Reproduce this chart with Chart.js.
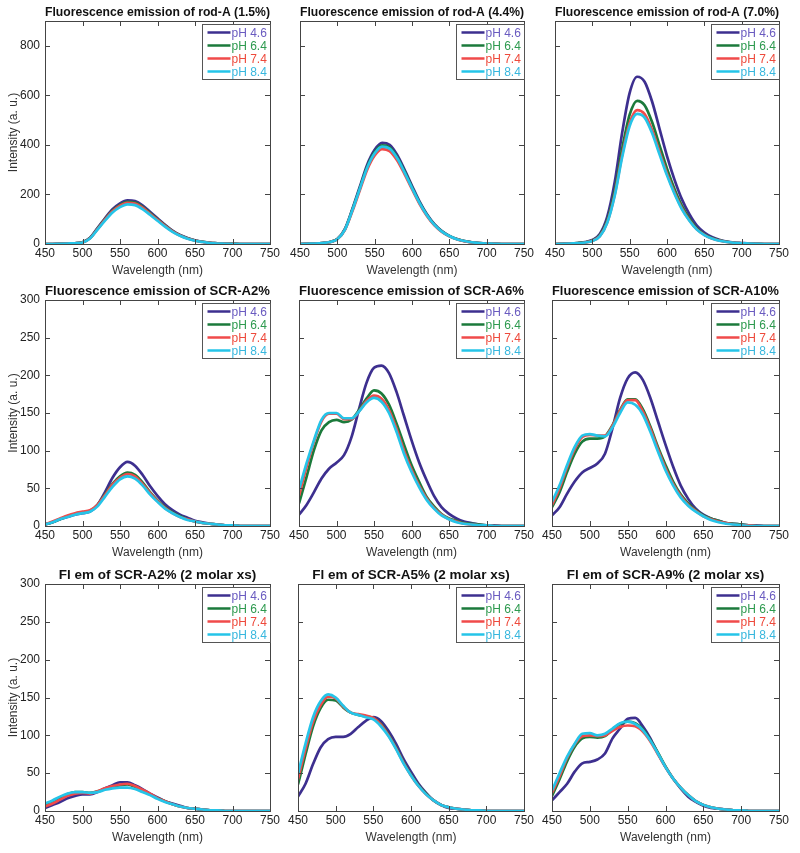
<!DOCTYPE html>
<html>
<head>
<meta charset="utf-8">
<title>Fluorescence emission</title>
<script src="https://cdn.jsdelivr.net/npm/chart.js@4.4.0/dist/chart.umd.min.js"></script>
<style>
  body { margin: 0; background: #fff; }
  #wrap { position: relative; width: 800px; height: 853px; }
  #wrap canvas { position: absolute; left: 0; top: 0; }
</style>
</head>
<body>
<div id="wrap"></div>
<script>
// wavelength axis (nm)
const wavelength = [450,460,470,480,490,500,510,520,530,540,550,560,570,580,590,600,610,620,630,640,650,660,670,680,690,700,710,720,730,740,750];
const phLabels = ["pH 4.6", "pH 6.4", "pH 7.4", "pH 8.4"];

// each panel: rows are pH 4.6, 6.4, 7.4, 8.4
const rodA15 = [
  [0,0,1,2,3,7,25,64,104,140,164,176,173,156,130,104,78,54,36,24,15,9,5,3,1,1,0,0,0,0,0],
  [0,0,1,2,3,7,24,62,100,135,158,170,167,150,125,100,75,52,35,23,14,9,5,3,1,1,0,0,0,0,0],
  [0,0,1,2,3,6,23,60,98,132,155,166,163,147,122,98,73,51,34,22,14,8,5,2,1,0,0,0,0,0,0],
  [0,0,1,2,3,6,22,58,94,127,149,160,157,141,118,94,70,49,33,21,13,8,4,2,1,0,0,0,0,0,0]
];
const rodA44 = [
  [0,1,2,4,8,20,60,140,230,320,380,408,400,360,300,235,172,120,80,52,33,20,12,7,4,2,1,0,0,0,0],
  [0,1,2,4,8,20,58,137,224,312,371,398,390,351,293,229,168,117,78,51,32,20,12,7,4,2,1,0,0,0,0],
  [0,1,2,4,8,19,56,131,216,300,357,383,375,338,282,221,162,113,75,49,31,19,11,7,4,2,1,0,0,0,0],
  [0,1,2,4,8,19,57,135,222,308,366,393,385,347,289,226,166,116,77,50,32,19,12,7,4,2,1,0,0,0,0]
];
const rodA70 = [
  [0,1,2,4,8,16,40,110,250,450,610,675,655,575,465,355,260,180,120,74,46,28,17,10,6,4,2,1,0,0,0],
  [0,1,2,4,7,14,35,95,215,385,522,578,560,492,398,304,222,154,103,63,39,24,15,9,5,3,2,1,0,0,0],
  [0,1,2,3,6,13,32,88,200,360,488,540,524,460,372,284,208,144,96,59,37,22,14,8,5,3,2,1,0,0,0],
  [0,1,2,3,6,12,31,86,195,351,476,525,510,448,362,277,203,140,94,58,36,22,13,8,5,3,2,1,0,0,0]
];
const scrA2 = [
  [2,5,9,12,15,17,19,28,45,64,78,85,80,68,53,40,29,21,15,11,7,5,3,2,1,1,0,0,0,0,0],
  [2,5,9,13,16,18,20,28,42,56,66,71,68,58,45,34,25,18,13,9,6,4,3,2,1,1,0,0,0,0,0],
  [2,6,10,14,17,19,21,28,41,55,64,69,66,56,44,33,24,17,12,9,6,4,3,2,1,1,0,0,0,0,0],
  [2,5,9,12,15,17,19,26,39,52,62,66,63,54,42,32,23,17,12,8,6,4,3,2,1,1,0,0,0,0,0]
];
const scrA6 = [
  [15,28,45,63,76,84,94,118,155,190,210,213,203,178,146,114,85,61,40,25,16,10,6,4,2,1,1,0,0,0,0],
  [30,65,101,127,138,141,138,141,154,169,180,176,161,136,108,81,59,39,26,16,10,7,4,3,2,1,0,0,0,0,0],
  [40,78,112,139,149,149,142,142,152,166,173,169,154,129,100,75,54,37,24,15,9,6,3,2,1,1,0,0,0,0,0],
  [48,83,114,141,150,150,143,143,152,164,170,165,150,125,96,72,52,35,23,14,9,5,3,2,1,1,0,0,0,0,0]
];
const scrA10 = [
  [14,25,43,59,71,77,83,96,130,170,196,204,194,170,139,108,79,54,36,23,15,10,7,4,3,2,1,1,0,0,0],
  [25,45,72,96,112,116,116,119,134,154,168,168,155,132,105,81,59,42,30,21,14,10,7,4,3,2,1,0,0,0,0],
  [28,50,78,102,118,121,120,120,133,153,167,167,152,129,102,77,56,40,28,20,13,9,6,4,2,1,1,0,0,0,0],
  [32,54,81,105,120,122,120,119,131,150,164,161,148,125,99,74,54,38,27,19,13,8,5,3,2,1,0,0,0,0,0]
];
const scrA2x = [
  [4,8,12,17,20,22,22,25,30,34,38,38,34,29,23,18,13,10,7,4,3,2,1,1,0,0,0,0,0,0,0],
  [8,12,17,22,25,25,24,26,29,32,34,35,32,27,22,17,13,9,6,4,3,2,1,1,0,0,0,0,0,0,0],
  [6,10,15,20,23,24,23,26,30,33,35,36,33,28,23,17,13,9,6,4,3,2,1,1,0,0,0,0,0,0,0],
  [10,14,19,23,25,25,24,25,28,30,31,31,29,25,21,16,12,9,6,4,3,2,1,1,0,0,0,0,0,0,0]
];
const scrA5x = [
  [19,36,62,84,95,98,98,102,111,119,124,119,106,89,69,52,36,24,14,8,4,3,2,1,1,0,0,0,0,0,0],
  [35,75,112,136,147,146,137,130,127,125,123,115,101,84,65,48,34,23,14,8,5,3,2,1,1,0,0,0,0,0,0],
  [42,82,118,140,151,149,138,130,128,126,123,114,100,83,64,47,33,22,14,8,5,3,2,1,1,0,0,0,0,0,0],
  [49,89,124,145,154,150,139,130,127,124,121,112,99,82,63,47,33,22,14,8,5,3,2,1,1,0,0,0,0,0,0]
];
const scrA9x = [
  [14,25,36,52,63,65,68,76,96,109,122,123,112,96,76,58,43,30,19,12,7,4,3,2,1,1,0,0,0,0,0],
  [20,42,66,85,96,98,97,99,108,115,118,116,108,94,77,59,43,31,21,13,8,5,3,2,1,1,0,0,0,0,0],
  [24,46,70,88,99,100,99,100,106,111,113,112,105,92,75,58,43,31,21,13,8,5,3,2,1,1,0,0,0,0,0],
  [27,50,72,89,102,103,100,102,109,116,118,115,107,93,76,58,43,31,21,13,8,5,3,2,1,1,0,0,0,0,0]
];

const lineColors = ["#3d2f8f", "#1b7a3b", "#f04a4a", "#25c4e8"];
const textColors = ["#6a5bc0", "#2e9a4f", "#ee4a3c", "#37b7de"];

Chart.defaults.font.family = "'Liberation Sans', Arial, sans-serif";

// matlab style frame, inward ticks and the legend box
const frame = {
  id: 'frame',
  afterDatasetsDraw(chart) {
    const {ctx, chartArea: a, scales: {x, y}} = chart;
    ctx.save();
    ctx.strokeStyle = '#444';
    ctx.lineWidth = 1;
    ctx.strokeRect(Math.round(a.left) + 0.5, Math.round(a.top) + 0.5, Math.round(a.right - a.left), Math.round(a.bottom - a.top));
    ctx.beginPath();
    x.ticks.forEach(t => {
      const px = Math.round(x.getPixelForValue(t.value)) + 0.5;
      ctx.moveTo(px, a.bottom); ctx.lineTo(px, a.bottom - 5);
      ctx.moveTo(px, a.top); ctx.lineTo(px, a.top + 5);
    });
    y.ticks.forEach(t => {
      const py = Math.round(y.getPixelForValue(t.value)) + 0.5;
      ctx.moveTo(a.left, py); ctx.lineTo(a.left + 5, py);
      ctx.moveTo(a.right, py); ctx.lineTo(a.right - 5, py);
    });
    ctx.stroke();

    // legend
    const bw = 68, bh = 55;
    const bx = Math.round(a.right - bw) + 0.5, by = Math.round(a.top + 3) + 0.5;
    ctx.fillStyle = '#fff';
    ctx.fillRect(bx, by, bw, bh);
    ctx.strokeStyle = '#555';
    ctx.strokeRect(bx, by, bw, bh);
    ctx.font = "12px 'Liberation Sans', Arial, sans-serif";
    ctx.textBaseline = 'middle';
    chart.data.datasets.forEach((ds, k) => {
      const ly = by + 8 + k * 13;
      ctx.strokeStyle = ds.borderColor;
      ctx.lineWidth = 2.5;
      ctx.beginPath();
      ctx.moveTo(bx + 5, ly); ctx.lineTo(bx + 28, ly);
      ctx.stroke();
      ctx.fillStyle = textColors[k];
      ctx.fillText(ds.label, bx + 29, ly + 1);
    });
    ctx.restore();
  }
};

const panels = [
  {title: 'Fluorescence emission of rod-A (1.5%)', series: rodA15, max: 900, step: 200, L: 45, R: 270, T: 21, B: 244},
  {title: 'Fluorescence emission of rod-A (4.4%)', series: rodA44, max: 900, step: 200, L: 300, R: 524, T: 21, B: 244},
  {title: 'Fluorescence emission of rod-A (7.0%)', series: rodA70, max: 900, step: 200, L: 555, R: 779, T: 21, B: 244},
  {title: 'Fluorescence emission of SCR-A2%', series: scrA2, max: 300, step: 50, L: 45, R: 270, T: 300, B: 526},
  {title: 'Fluorescence emission of SCR-A6%', series: scrA6, max: 300, step: 50, L: 299, R: 524, T: 300, B: 526},
  {title: 'Fluorescence emission of SCR-A10%', series: scrA10, max: 300, step: 50, L: 552, R: 779, T: 300, B: 526},
  {title: 'Fl em of SCR-A2% (2 molar xs)', series: scrA2x, max: 300, step: 50, L: 45, R: 270, T: 584, B: 811},
  {title: 'Fl em of SCR-A5% (2 molar xs)', series: scrA5x, max: 300, step: 50, L: 298, R: 524, T: 584, B: 811},
  {title: 'Fl em of SCR-A9% (2 molar xs)', series: scrA9x, max: 300, step: 50, L: 552, R: 779, T: 584, B: 811}
];

const wrap = document.getElementById('wrap');

panels.forEach((p, n) => {
  const first = n % 3 === 0;
  const yW = first ? 45 : 0;
  const xH = 40;
  const cv = document.createElement('canvas');
  cv.width = 800; cv.height = 853;
  wrap.appendChild(cv);

  new Chart(cv, {
    type: 'line',
    data: {
      datasets: phLabels.map((lab, k) => ({
        label: lab,
        data: wavelength.map((w, i) => ({x: w, y: p.series[k][i]})),
        borderColor: lineColors[k],
        borderWidth: 2.7,
        pointRadius: 0,
        cubicInterpolationMode: 'monotone',
        order: 3 - k
      }))
    },
    options: {
      responsive: false,
      animation: false,
      devicePixelRatio: 1,
      layout: {padding: {left: p.L - yW, right: 800 - p.R, top: p.T - 17.2, bottom: 853 - p.B - xH}},
      plugins: {
        legend: {display: false},
        tooltip: {enabled: false},
        title: {
          display: true, text: p.title, fullSize: false, color: '#111',
          font: {size: 13.5, weight: 'bold'}, padding: {top: 0, bottom: 1}
        }
      },
      scales: {
        x: {
          type: 'linear', min: 450, max: 750,
          ticks: {stepSize: 50, padding: 2, color: '#222', font: {size: 12}, autoSkip: false, maxRotation: 0},
          grid: {display: false, drawTicks: false},
          border: {display: false},
          title: {display: true, text: 'Wavelength (nm)', color: '#333', font: {size: 12}, padding: {top: 0, bottom: 6}},
          afterFit: s => { s.height = xH; }
        },
        y: {
          type: 'linear', min: 0, max: p.max,
          ticks: {display: first, stepSize: p.step, padding: 5, color: '#222', font: {size: 12}},
          afterBuildTicks: s => { s.ticks = s.ticks.filter(t => t.value % p.step === 0); },
          grid: {display: false, drawTicks: false},
          border: {display: false},
          title: {display: first, text: 'Intensity (a. u.)', color: '#333', font: {size: 12}, padding: {top: 6, bottom: 0}},
          afterFit: s => { s.width = yW; }
        }
      }
    },
    plugins: [frame]
  });
});
</script>
</body>
</html>
